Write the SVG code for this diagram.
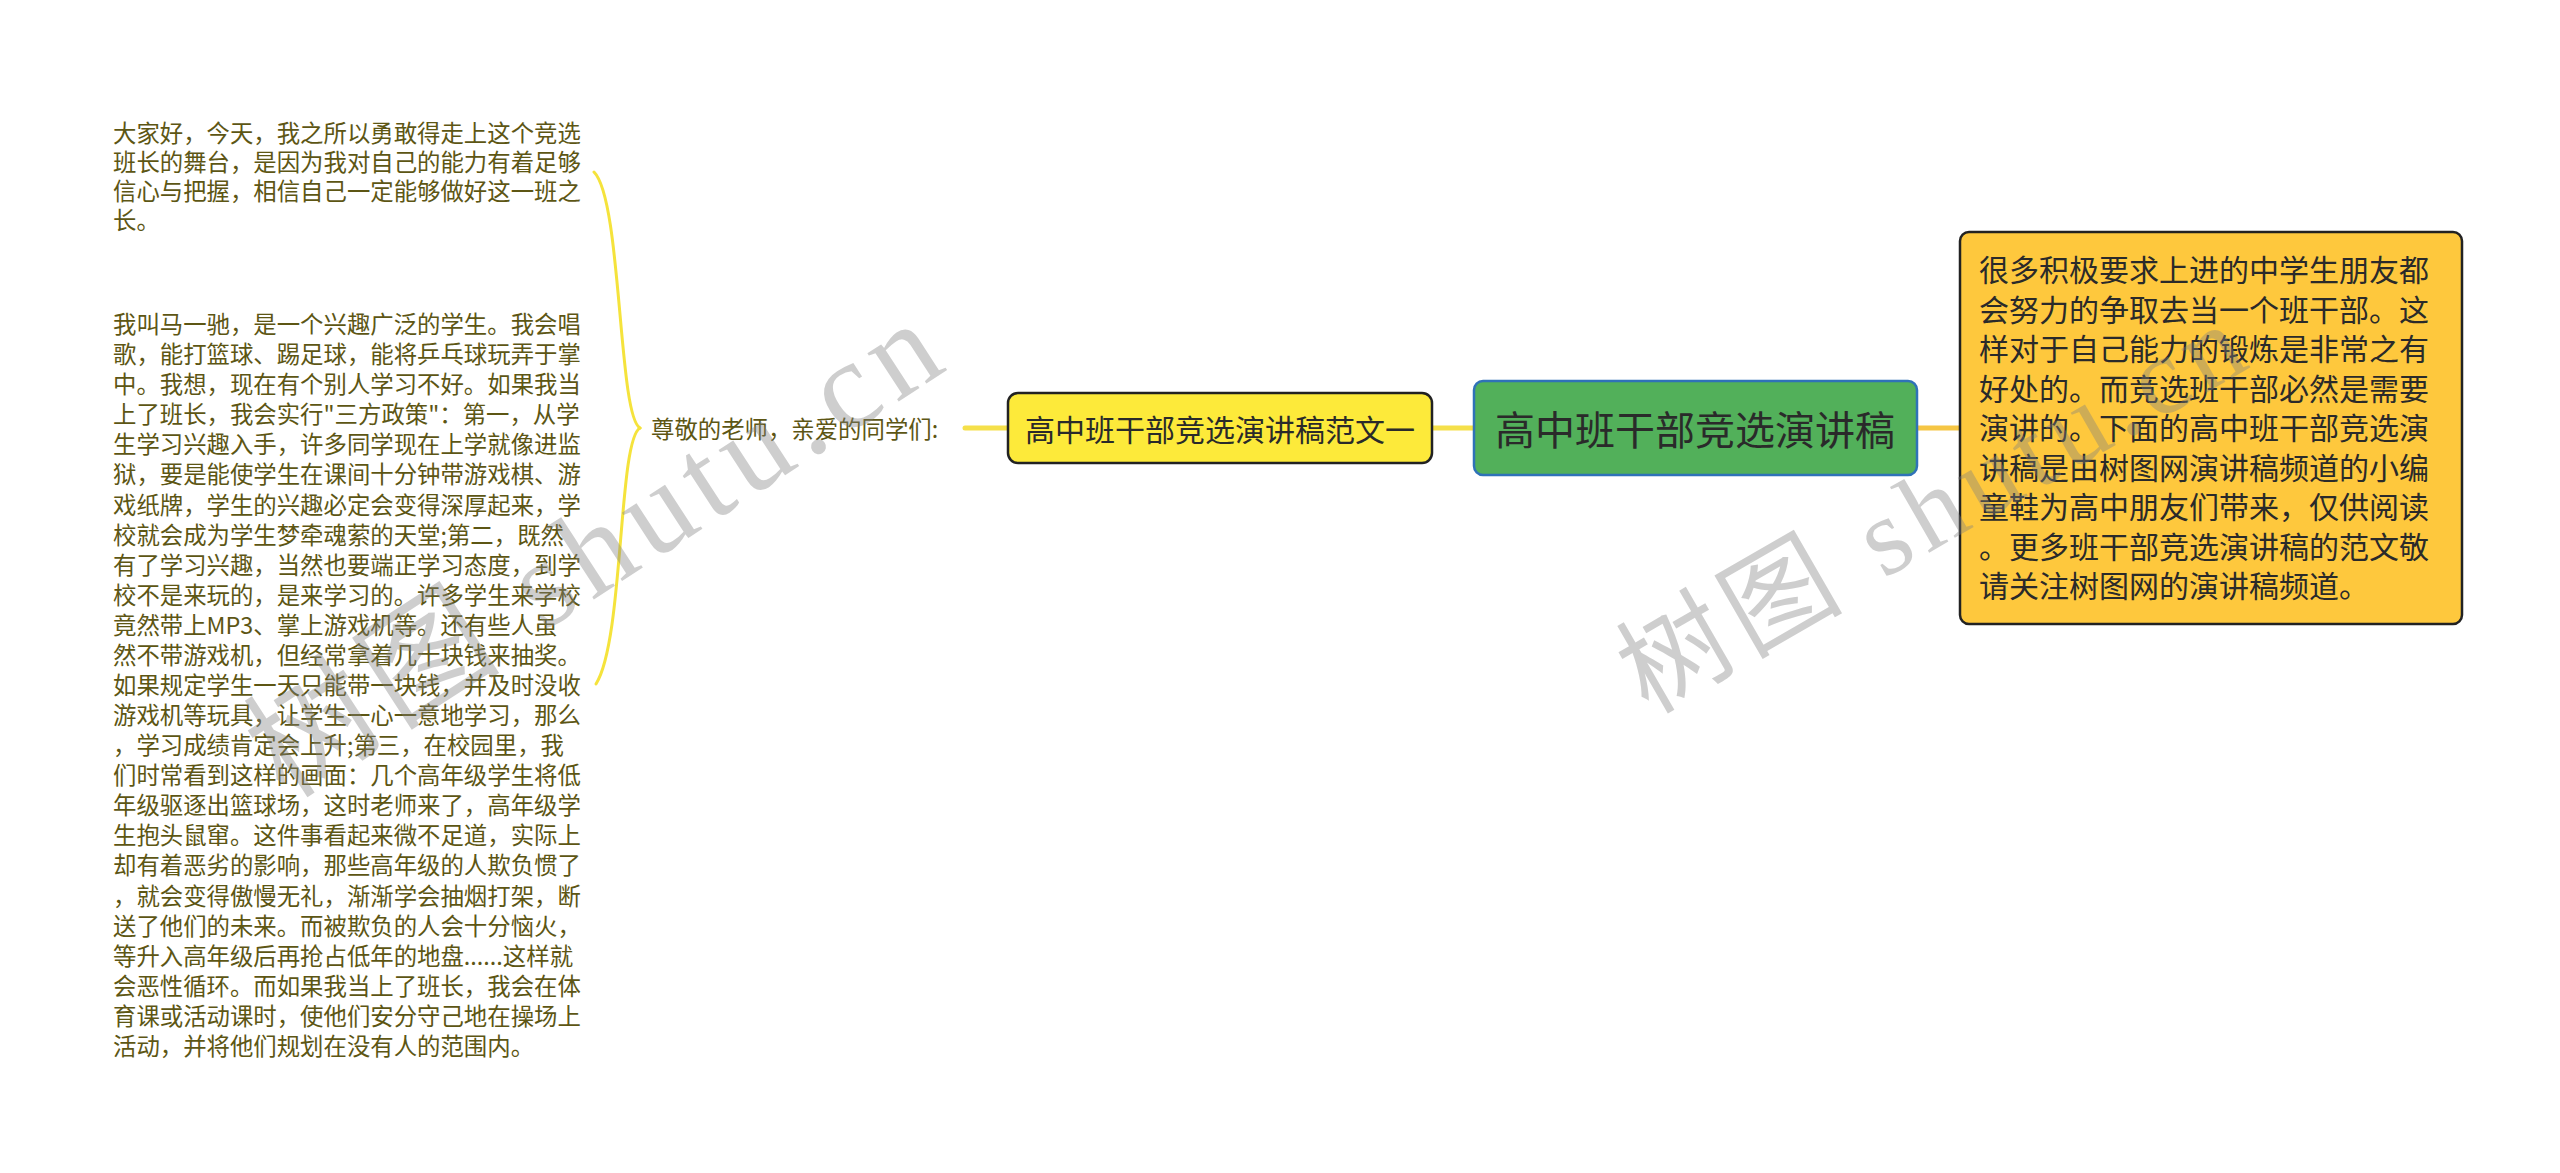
<svg xmlns="http://www.w3.org/2000/svg" width="2560" height="1173" viewBox="0 0 2560 1173">
<style>
.lt{font-family:"Noto Sans CJK SC","Noto Sans",sans-serif;font-size:23.4px;fill:#5d5614;dominant-baseline:central}
.nt{font-family:"Noto Sans CJK SC","Noto Sans",sans-serif;fill:#2a2a2a;dominant-baseline:central}
.con{fill:none;stroke-linecap:round}
.wm{font-family:"Liberation Serif","Noto Sans CJK SC",serif;fill:#808080;opacity:0.38}
</style>
<rect width="2560" height="1173" fill="#ffffff"/>
<g id="connectors">
<path class="con" d="M1473 428 L1432 428" stroke="#f5e04a" stroke-width="5"/>
<path class="con" d="M1008 428 L965 428" stroke="#f5e04a" stroke-width="5"/>
<path class="con" d="M1917 428 L1960 428" stroke="#f6c644" stroke-width="5"/>
<path class="con" d="M640 428 C618 416 622 200 594 172" stroke="#f5e33c" stroke-width="3"/>
<path class="con" d="M640 428 C618 440 624 640 596 684" stroke="#f5e33c" stroke-width="3"/>
</g>
<g id="root">
<rect x="1474" y="381" width="443" height="94" rx="9" fill="#52b05a" stroke="#2f72b8" stroke-width="2.5"/>
<text class="nt" x="1695" y="428" font-size="40" text-anchor="middle">高中班干部竞选演讲稿</text>
</g>
<g id="node-fanwen">
<rect x="1008" y="393" width="424" height="70" rx="10" fill="#fdea3a" stroke="#222" stroke-width="2.5"/>
<text class="nt" x="1220" y="428" font-size="30" text-anchor="middle">高中班干部竞选演讲稿范文一</text>
</g>
<g id="node-intro">
<rect x="1960" y="232" width="502" height="392" rx="9" fill="#fec83d" stroke="#222" stroke-width="2.5"/>
<text class="nt" font-size="30">
<tspan x="1979" y="268">很多积极要求上进的中学生朋友都</tspan>
<tspan x="1979" y="307.5">会努力的争取去当一个班干部。这</tspan>
<tspan x="1979" y="347">样对于自己能力的锻炼是非常之有</tspan>
<tspan x="1979" y="386.5">好处的。而竞选班干部必然是需要</tspan>
<tspan x="1979" y="426">演讲的。下面的高中班干部竞选演</tspan>
<tspan x="1979" y="465.5">讲稿是由树图网演讲稿频道的小编</tspan>
<tspan x="1979" y="505">童鞋为高中朋友们带来，仅供阅读</tspan>
<tspan x="1979" y="544.5">。更多班干部竞选演讲稿的范文敬</tspan>
<tspan x="1979" y="584">请关注树图网的演讲稿频道。</tspan>
</text>
</g>
<g id="label-greeting">
<text class="lt" x="651" y="428" font-size="22.3">尊敬的老师，亲爱的同学们:</text>
</g>
<g id="text-block-1">
<text class="lt">
<tspan x="113" y="132">大家好，今天，我之所以勇敢得走上这个竞选</tspan>
<tspan x="113" y="161">班长的舞台，是因为我对自己的能力有着足够</tspan>
<tspan x="113" y="190">信心与把握，相信自己一定能够做好这一班之</tspan>
<tspan x="113" y="219">长。</tspan>
</text>
</g>
<g id="text-block-2">
<text class="lt">
<tspan x="113" y="323">我叫马一驰，是一个兴趣广泛的学生。我会唱</tspan>
<tspan x="113" y="353.1">歌，能打篮球、踢足球，能将乒乓球玩弄于掌</tspan>
<tspan x="113" y="383.2">中。我想，现在有个别人学习不好。如果我当</tspan>
<tspan x="113" y="413.2">上了班长，我会实行"三方政策"：第一，从学</tspan>
<tspan x="113" y="443.3">生学习兴趣入手，许多同学现在上学就像进监</tspan>
<tspan x="113" y="473.4">狱，要是能使学生在课间十分钟带游戏棋、游</tspan>
<tspan x="113" y="503.5">戏纸牌，学生的兴趣必定会变得深厚起来，学</tspan>
<tspan x="113" y="533.6">校就会成为学生梦牵魂萦的天堂;第二，既然</tspan>
<tspan x="113" y="563.6">有了学习兴趣，当然也要端正学习态度，到学</tspan>
<tspan x="113" y="593.7">校不是来玩的，是来学习的。许多学生来学校</tspan>
<tspan x="113" y="623.8">竟然带上MP3、掌上游戏机等。还有些人虽</tspan>
<tspan x="113" y="653.9">然不带游戏机，但经常拿着几十块钱来抽奖。</tspan>
<tspan x="113" y="684">如果规定学生一天只能带一块钱，并及时没收</tspan>
<tspan x="113" y="714">游戏机等玩具，让学生一心一意地学习，那么</tspan>
<tspan x="113" y="744.1">，学习成绩肯定会上升;第三，在校园里，我</tspan>
<tspan x="113" y="774.2">们时常看到这样的画面：几个高年级学生将低</tspan>
<tspan x="113" y="804.3">年级驱逐出篮球场，这时老师来了，高年级学</tspan>
<tspan x="113" y="834.4">生抱头鼠窜。这件事看起来微不足道，实际上</tspan>
<tspan x="113" y="864.4">却有着恶劣的影响，那些高年级的人欺负惯了</tspan>
<tspan x="113" y="894.5">，就会变得傲慢无礼，渐渐学会抽烟打架，断</tspan>
<tspan x="113" y="924.6">送了他们的未来。而被欺负的人会十分恼火，</tspan>
<tspan x="113" y="954.7">等升入高年级后再抢占低年的地盘......这样就</tspan>
<tspan x="113" y="984.8">会恶性循环。而如果我当上了班长，我会在体</tspan>
<tspan x="113" y="1014.8">育课或活动课时，使他们安分守己地在操场上</tspan>
<tspan x="113" y="1045">活动，并将他们规划在没有人的范围内。</tspan>
</text>
</g>
<text class="wm" font-size="125" letter-spacing="9" transform="translate(285 800) rotate(-33)">树图 shutu.cn</text>
<text class="wm" font-size="110" letter-spacing="8" transform="translate(1648 715) rotate(-30)">树图 shutu.cn</text>
</svg>
